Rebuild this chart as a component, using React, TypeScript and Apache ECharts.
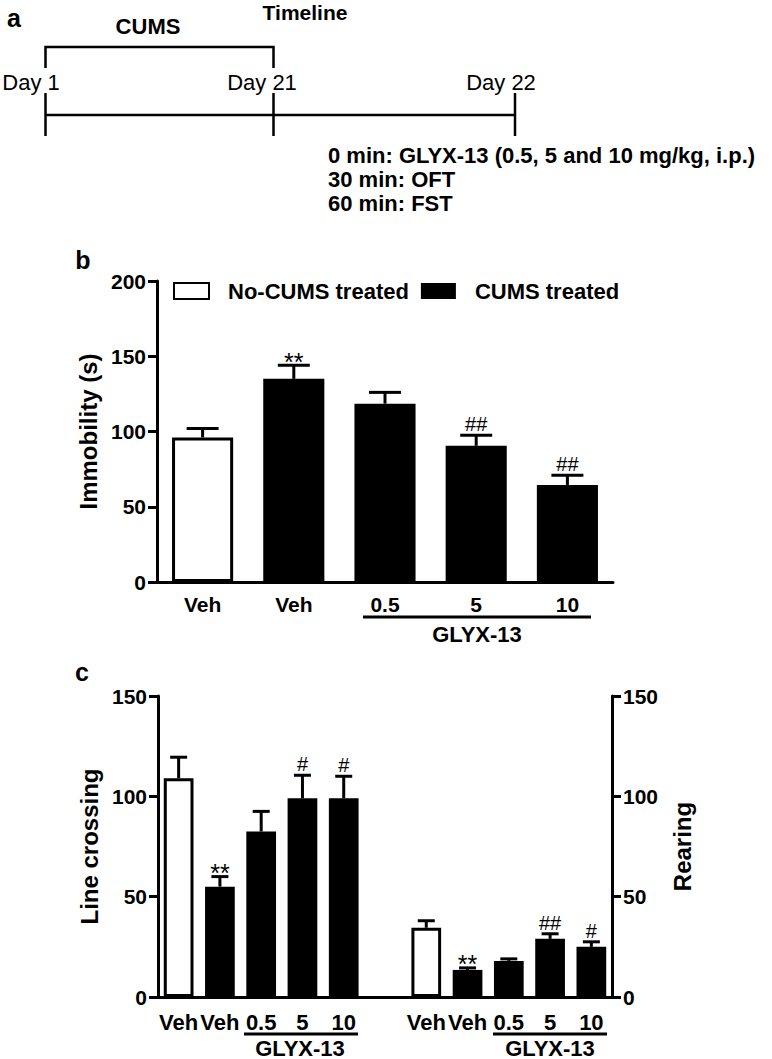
import React, { useEffect, useRef } from 'react';
import * as echarts from 'echarts';

const FONT = '"Liberation Sans", Arial, Helvetica, sans-serif';

// ---------- Panel b: forced swim test ----------
const bCategories = ['Veh', 'Veh', '0.5', '5', '10'];
const bGroups = ['No-CUMS treated', 'CUMS treated', 'CUMS treated', 'CUMS treated', 'CUMS treated'];
const bMeans = [96, 135, 118.5, 90.5, 64.5];
const bErrors = [6, 9, 7.5, 7, 6.5];
const bSig = ['', '**', '', '##', '##'];
const bTicks = { min: 0, max: 200, interval: 50 };

// ---------- Panel c: open field test ----------
const cCategories = ['Veh', 'Veh', '0.5', '5', '10', '', 'Veh', 'Veh', '0.5', '5', '10'];
const cWhite = [true, false, false, false, false];
const lineCrossing = [109, 55, 82.5, 99, 99];
const lineCrossingErr = [10.5, 5, 10, 11.5, 11];
const lineCrossingSig = ['', '**', '', '#', '#'];
const rearing = [34.5, 13.5, 18, 29, 25];
const rearingErr = [3.5, 1, 1, 2.5, 2.5];
const rearingSig = ['', '**', '', '##', '#'];
const cTicks = { min: 0, max: 150, interval: 50 };

const BLACK = '#000';

function errorBars(
  xAxisIndex: number,
  yAxisIndex: number,
  points: number[][],
  sigs: string[],
  capW: number,
  sigSize: number
) {
  return {
    type: 'custom',
    xAxisIndex,
    yAxisIndex,
    z: 10,
    silent: true,
    clip: false,
    data: points,
    renderItem: (params: any, api: any) => {
      const c = api.value(0);
      const m = api.value(1);
      const e = api.value(2);
      const top = api.coord([c, m]);
      const end = api.coord([c, m + e]);
      const children: any[] = [
        {
          type: 'line',
          shape: { x1: top[0], y1: top[1], x2: end[0], y2: end[1] },
          style: { stroke: BLACK, lineWidth: 3 },
        },
        {
          type: 'line',
          shape: { x1: end[0] - capW / 2, y1: end[1], x2: end[0] + capW / 2, y2: end[1] },
          style: { stroke: BLACK, lineWidth: 3 },
        },
      ];
      const s = sigs[params.dataIndex];
      if (s) {
        const star = s.indexOf('*') >= 0;
        children.push({
          type: 'text',
          x: end[0],
          y: end[1] + (star ? 9 : -1),
          style: {
            text: s,
            align: 'center',
            verticalAlign: 'bottom',
            fontSize: star ? sigSize + 5 : sigSize,
            fontFamily: FONT,
            fill: BLACK,
          },
        });
      }
      return { type: 'group', children };
    },
  };
}

const axisLine = { show: true, lineStyle: { color: BLACK, width: 3 } };
const yTick = { show: true, inside: false, length: 9, lineStyle: { color: BLACK, width: 3 } };
const tickLabel = { color: BLACK, fontSize: 21, fontWeight: 'bold', fontFamily: FONT, margin: 11 };
const nameStyle = { color: BLACK, fontSize: 24, fontWeight: 'bold', fontFamily: FONT };

function txt(x: number, y: number, text: string, size: number, bold: boolean, align = 'left') {
  return {
    type: 'text',
    x,
    y,
    style: {
      text,
      fontSize: size,
      fontWeight: bold ? 'bold' : 'normal',
      fontFamily: FONT,
      fill: BLACK,
      align,
      verticalAlign: 'middle',
    },
  };
}

function ln(x1: number, y1: number, x2: number, y2: number, w = 2.5) {
  return { type: 'line', shape: { x1, y1, x2, y2 }, style: { stroke: BLACK, lineWidth: w } };
}

export default function App() {
  const ref = useRef<HTMLDivElement>(null);

  useEffect(() => {
    if (!ref.current) return;
    const chart = echarts.init(ref.current, undefined, { renderer: 'svg' });

    const bNo = bMeans.map((v, i) => (bGroups[i] === 'No-CUMS treated' ? v : '-'));
    const bYes = bMeans.map((v, i) => (bGroups[i] === 'CUMS treated' ? v : '-'));

    const styled = (v: number, white: boolean) =>
      white
        ? { value: v, itemStyle: { color: '#fff', borderColor: BLACK, borderWidth: 3 } }
        : { value: v, itemStyle: { color: BLACK } };

    const lcData: any[] = cCategories.map((_, i) => (i < 5 ? styled(lineCrossing[i], cWhite[i]) : '-'));
    const rrData: any[] = cCategories.map((_, i) => (i > 5 ? styled(rearing[i - 6], cWhite[i - 6]) : '-'));

    const panelA = [
      txt(14, 18, 'a', 25, true, 'center'),
      txt(305, 12, 'Timeline', 21, true, 'center'),
      txt(148, 26, 'CUMS', 22, true, 'center'),
      { type: 'polyline', shape: { points: [[45.5, 68], [45.5, 47], [273.5, 47], [273.5, 68]] }, style: { stroke: BLACK, lineWidth: 2.5, fill: 'none' } },
      txt(31, 82, 'Day 1', 22, false, 'center'),
      txt(262, 82, 'Day 21', 22, false, 'center'),
      txt(501, 82, 'Day 22', 22, false, 'center'),
      ln(45.5, 115, 515, 115),
      ln(45.5, 93, 45.5, 136),
      ln(273.5, 93, 273.5, 136),
      ln(515, 93, 515, 136),
      txt(328, 155, '0 min: GLYX-13 (0.5, 5 and 10 mg/kg, i.p.)', 22, true),
      txt(328, 179, '30 min: OFT', 22, true),
      txt(328, 203, '60 min: FST', 22, true),
    ];

    const annotations = [
      txt(83, 260, 'b', 25, true, 'center'),
      ln(363, 617, 591, 617, 3),
      txt(477, 634, 'GLYX-13', 22, true, 'center'),
      txt(82, 672, 'c', 25, true, 'center'),
      ln(244, 1034, 358, 1034, 3),
      txt(300, 1048, 'GLYX-13', 22, true, 'center'),
      ln(493, 1034, 607, 1034, 3),
      txt(550, 1048, 'GLYX-13', 22, true, 'center'),
    ];

    chart.setOption({
      animation: false,
      backgroundColor: '#fff',
      textStyle: { fontFamily: FONT },
      legend: {
        left: 168,
        top: 275,
        icon: 'rect',
        itemWidth: 35,
        itemHeight: 16,
        itemGap: 12,
        selectedMode: false,
        data: ['No-CUMS treated', 'CUMS treated'],
        textStyle: { color: BLACK, fontSize: 22, fontWeight: 'bold', fontFamily: FONT, padding: [0, 0, 0, 14] },
      },
      grid: [
        { left: 157, top: 281, width: 456, height: 301 },
        { left: 158, top: 696, width: 454, height: 301 },
      ],
      xAxis: [
        {
          type: 'category',
          gridIndex: 0,
          data: bCategories,
          axisLine,
          axisTick: { show: false },
          axisLabel: { ...tickLabel, margin: 12, interval: 0 },
        },
        {
          type: 'category',
          gridIndex: 1,
          data: cCategories,
          axisLine,
          axisTick: { show: false },
          axisLabel: { ...tickLabel, fontSize: 22, margin: 14, interval: 0, hideOverlap: false },
        },
      ],
      yAxis: [
        {
          type: 'value',
          gridIndex: 0,
          ...bTicks,
          name: 'Immobility (s)',
          nameLocation: 'middle',
          nameRotate: 90,
          nameGap: 56,
          nameTextStyle: nameStyle,
          axisLine,
          axisTick: yTick,
          axisLabel: tickLabel,
          splitLine: { show: false },
        },
        {
          type: 'value',
          gridIndex: 1,
          position: 'left',
          ...cTicks,
          name: 'Line crossing',
          nameLocation: 'middle',
          nameRotate: 90,
          nameGap: 57,
          nameTextStyle: nameStyle,
          axisLine,
          axisTick: yTick,
          axisLabel: tickLabel,
          splitLine: { show: false },
        },
        {
          type: 'value',
          gridIndex: 1,
          position: 'right',
          ...cTicks,
          name: 'Rearing',
          nameLocation: 'middle',
          nameRotate: 90,
          nameGap: 58,
          nameTextStyle: nameStyle,
          axisLine,
          axisTick: yTick,
          axisLabel: tickLabel,
          splitLine: { show: false },
        },
      ],
      series: [
        {
          name: 'No-CUMS treated',
          type: 'bar',
          xAxisIndex: 0,
          yAxisIndex: 0,
          data: bNo,
          barWidth: '67%',
          barGap: '-100%',
          itemStyle: { color: '#fff', borderColor: BLACK, borderWidth: 3 },
        },
        {
          name: 'CUMS treated',
          type: 'bar',
          xAxisIndex: 0,
          yAxisIndex: 0,
          data: bYes,
          barWidth: '67%',
          barGap: '-100%',
          itemStyle: { color: BLACK },
        },
        errorBars(0, 0, bMeans.map((v, i) => [i, v, bErrors[i]]), bSig, 32, 20),
        {
          name: 'Line crossing',
          type: 'bar',
          xAxisIndex: 1,
          yAxisIndex: 1,
          data: lcData,
          barWidth: '72%',
          barGap: '-100%',
        },
        {
          name: 'Rearing',
          type: 'bar',
          xAxisIndex: 1,
          yAxisIndex: 2,
          data: rrData,
          barWidth: '72%',
          barGap: '-100%',
        },
        errorBars(1, 1, lineCrossing.map((v, i) => [i, v, lineCrossingErr[i]]), lineCrossingSig, 17, 20),
        errorBars(1, 2, rearing.map((v, i) => [i + 6, v, rearingErr[i]]), rearingSig, 17, 20),
      ],
      graphic: [...panelA, ...annotations],
    });

    return () => chart.dispose();
  }, []);

  return (
    <div
      ref={ref}
      style={{ position: 'absolute', left: 0, top: 0, width: 772, height: 1059, background: '#fff' }}
    />
  );
}
